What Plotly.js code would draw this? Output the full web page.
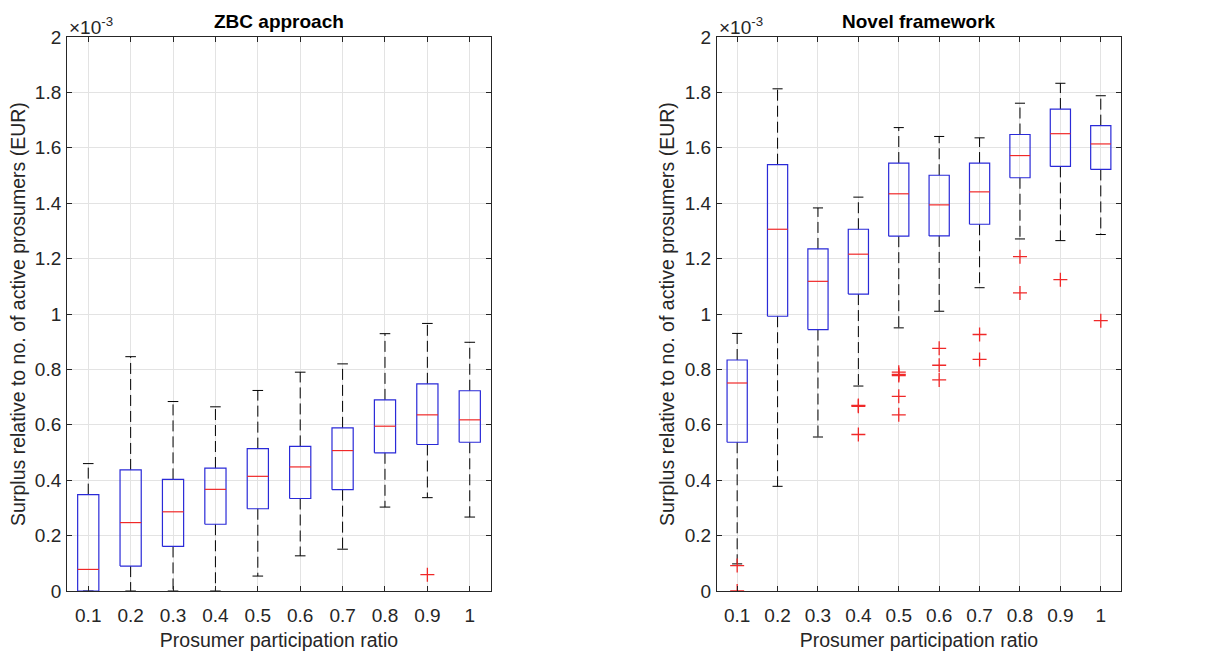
<!DOCTYPE html>
<html>
<head>
<meta charset="utf-8">
<script src="https://cdn.plot.ly/plotly-3.0.1.min.js"></script>
<style>html,body{margin:0;padding:0;background:#fff;}#chart{width:1206px;height:654px;}</style>
</head>
<body>
<div id="chart"></div>
<script>
// Values are in units of 1e-3 EUR (axis multiplier ×10^-3)
const ratios = [0.1, 0.2, 0.3, 0.4, 0.5, 0.6, 0.7, 0.8, 0.9, 1];
const tickLabels = ['0.1','0.2','0.3','0.4','0.5','0.6','0.7','0.8','0.9','1'];

// ZBC approach
const zbcLower  = [0.000, 0.000, 0.000, 0.000, 0.054, 0.127, 0.151, 0.303, 0.337, 0.267];
const zbcQ1     = [0.000, 0.090, 0.161, 0.241, 0.297, 0.334, 0.366, 0.499, 0.529, 0.537];
const zbcMedian = [0.078, 0.247, 0.286, 0.367, 0.414, 0.448, 0.507, 0.595, 0.636, 0.618];
const zbcQ3     = [0.348, 0.437, 0.403, 0.444, 0.514, 0.522, 0.589, 0.690, 0.748, 0.723];
const zbcUpper  = [0.460, 0.846, 0.684, 0.665, 0.724, 0.790, 0.820, 0.929, 0.966, 0.898];
const zbcOutlierX = [0.9];
const zbcOutlierY = [0.059];

// Novel framework
const novLower  = [0.098, 0.378, 0.556, 0.740, 0.950, 1.010, 1.095, 1.271, 1.265, 1.287];
const novQ1     = [0.537, 0.992, 0.944, 1.072, 1.281, 1.282, 1.324, 1.492, 1.533, 1.522];
const novMedian = [0.751, 1.306, 1.118, 1.216, 1.434, 1.394, 1.441, 1.572, 1.651, 1.614];
const novQ3     = [0.834, 1.539, 1.235, 1.306, 1.545, 1.501, 1.545, 1.648, 1.740, 1.680];
const novUpper  = [0.930, 1.813, 1.383, 1.422, 1.673, 1.641, 1.636, 1.761, 1.833, 1.788];
const novOutlierX = [0.1, 0.1, 0.4, 0.4, 0.4, 0.5, 0.5, 0.5, 0.5, 0.5, 0.6, 0.6, 0.6, 0.7, 0.7, 0.8, 0.8, 0.9, 1];
const novOutlierY = [0.092, 0.000, 0.667, 0.670, 0.565, 0.790, 0.778, 0.782, 0.703, 0.636, 0.876, 0.815, 0.762, 0.926, 0.836, 1.207, 1.076, 1.124, 0.976];

const BOX_HALF = 0.025;
const CAP_HALF = 0.0125;
const BLUE = '#2a2ad8';
const RED = '#f02828';

function buildTraces(lower, q1, med, q3, upper, ox, oy, xa, ya) {
  const wx = [], wy = [], cx = [], cy = [], bx = [], by = [], mx = [], my = [];
  ratios.forEach((r, i) => {
    wx.push(r, r, null, r, r, null);
    wy.push(q3[i], upper[i], null, q1[i], lower[i], null);
    cx.push(r - CAP_HALF, r + CAP_HALF, null, r - CAP_HALF, r + CAP_HALF, null);
    cy.push(upper[i], upper[i], null, lower[i], lower[i], null);
    bx.push(r - BOX_HALF, r + BOX_HALF, r + BOX_HALF, r - BOX_HALF, r - BOX_HALF, null);
    by.push(q1[i], q1[i], q3[i], q3[i], q1[i], null);
    mx.push(r - BOX_HALF, r + BOX_HALF, null);
    my.push(med[i], med[i], null);
  });
  const common = {type: 'scatter', mode: 'lines', xaxis: xa, yaxis: ya, hoverinfo: 'skip', showlegend: false};
  return [
    Object.assign({}, common, {x: wx, y: wy, line: {color: '#000', width: 1, dash: '11px,5px'}}),
    Object.assign({}, common, {x: cx, y: cy, line: {color: '#000', width: 1}}),
    Object.assign({}, common, {x: bx, y: by, line: {color: BLUE, width: 1.2}}),
    Object.assign({}, common, {x: mx, y: my, line: {color: RED, width: 1.2}}),
    {type: 'scatter', mode: 'markers', x: ox, y: oy, xaxis: xa, yaxis: ya, showlegend: false,
     marker: {symbol: 'cross-thin-open', size: 10, color: RED, line: {color: RED, width: 1.3}}}
  ];
}

const traces = [].concat(
  buildTraces(zbcLower, zbcQ1, zbcMedian, zbcQ3, zbcUpper, zbcOutlierX, zbcOutlierY, 'x', 'y'),
  buildTraces(novLower, novQ1, novMedian, novQ3, novUpper, novOutlierX, novOutlierY, 'x2', 'y2')
);

const FONT = 'Liberation Sans, Arial, sans-serif';
const TXT = '#262626';

function xAxis(domain, anchor) {
  return {
    domain: domain, anchor: anchor, range: [0.05, 1.05],
    tickvals: ratios, ticktext: tickLabels,
    showgrid: true, gridcolor: '#e3e3e3', gridwidth: 1, zeroline: false,
    showline: true, linecolor: TXT, linewidth: 1, mirror: 'ticks',
    ticks: 'inside', ticklen: 5, tickcolor: TXT,
    ticklabelstandoff: 7,
    tickfont: {family: FONT, size: 19, color: TXT},
    title: {text: 'Prosumer participation ratio', font: {family: FONT, size: 19.5, color: TXT}, standoff: 8},
    automargin: false, fixedrange: true
  };
}
function yAxis(anchor) {
  return {
    domain: [0.0963, 0.9434], anchor: anchor, range: [0, 2],
    tickvals: [0, 0.2, 0.4, 0.6, 0.8, 1, 1.2, 1.4, 1.6, 1.8, 2],
    ticktext: ['0', '0.2', '0.4', '0.6', '0.8', '1', '1.2', '1.4', '1.6', '1.8', '2'],
    showgrid: true, gridcolor: '#e3e3e3', gridwidth: 1, zeroline: false,
    showline: true, linecolor: TXT, linewidth: 1, mirror: 'ticks',
    ticks: 'inside', ticklen: 5, tickcolor: TXT,
    ticklabelstandoff: 1,
    tickfont: {family: FONT, size: 19, color: TXT},
    title: {text: 'Surplus relative to no. of active prosumers (EUR)', font: {family: FONT, size: 19.5, color: TXT}, standoff: 4},
    automargin: false, fixedrange: true
  };
}

const layout = {
  width: 1206, height: 654,
  margin: {l: 0, r: 0, t: 0, b: 0},
  paper_bgcolor: '#fff', plot_bgcolor: '#fff',
  showlegend: false,
  xaxis: xAxis([0.0556, 0.4071], 'y'),
  yaxis: yAxis('x'),
  xaxis2: xAxis([0.5945, 0.9295], 'y2'),
  yaxis2: yAxis('x2'),
  annotations: [
    {text: '<b>ZBC approach</b>', xref: 'paper', yref: 'paper', x: (0.0556 + 0.4071) / 2, y: 0.9434, xanchor: 'center', yanchor: 'bottom', yshift: 3, showarrow: false, font: {family: FONT, size: 19, color: '#000'}},
    {text: '<b>Novel framework</b>', xref: 'paper', yref: 'paper', x: (0.5945 + 0.9295) / 2, y: 0.9434, xanchor: 'center', yanchor: 'bottom', yshift: 3, showarrow: false, font: {family: FONT, size: 19, color: '#000'}},
    {text: '×10<sup>-3</sup>', xref: 'paper', yref: 'paper', x: 0.0556, y: 0.9434, xanchor: 'left', yanchor: 'bottom', yshift: -3, showarrow: false, font: {family: FONT, size: 19, color: TXT}},
    {text: '×10<sup>-3</sup>', xref: 'paper', yref: 'paper', x: 0.5945, y: 0.9434, xanchor: 'left', yanchor: 'bottom', yshift: -3, showarrow: false, font: {family: FONT, size: 19, color: TXT}}
  ]
};

Plotly.newPlot('chart', traces, layout, {displayModeBar: false, staticPlot: true});
</script>
</body>
</html>
